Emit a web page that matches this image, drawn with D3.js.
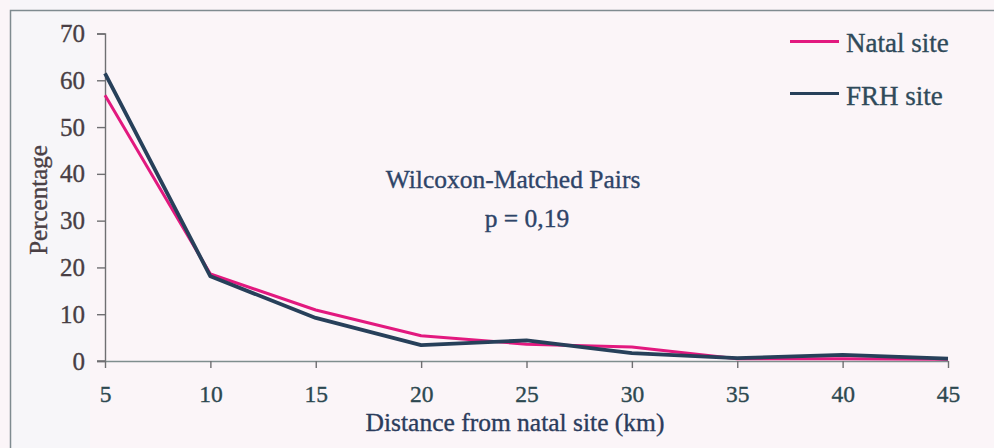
<!DOCTYPE html>
<html>
<head>
<meta charset="utf-8">
<script src="https://cdn.jsdelivr.net/npm/d3@7"></script>
<style>
  html, body { margin: 0; padding: 0; background: #fbf5f8; }
  svg { display: block; }
  svg text { font-family: "Liberation Serif", "Times New Roman", serif; }
</style>
</head>
<body>
<svg id="chart" width="994" height="448"></svg>
<script>
// Dispersal distance classes (km) and share of individuals (%)
const distances = [5, 10, 15, 20, 25, 30, 35, 40, 45];
const natalSite = [56.8, 18.6, 10.9, 5.4, 3.6, 3.0, 0.5, 0.5, 0.4];
const frhSite   = [61.5, 18.1, 9.2, 3.4, 4.4, 1.7, 0.6, 1.3, 0.5];
const yTicks = [0, 10, 20, 30, 40, 50, 60, 70];
const seriesNames = ["Natal site", "FRH site"];
const seriesColors = ["#e2197f", "#27405a"];

const SERIF = "'Liberation Serif', 'Times New Roman', serif";
const svg = d3.select("#chart");

// heavier type, like print
function ink(sel, color, w) {
  sel.attr("fill", color).attr("stroke", color).attr("stroke-width", w || 0.35);
}

// background and outer frame (only left and top edges fall inside the page)
svg.append("rect").attr("x", 0).attr("y", 0).attr("width", 994).attr("height", 448)
  .attr("fill", "#fbf5f8");
svg.append("rect").attr("x", 10).attr("y", 0).attr("width", 80).attr("height", 448)
  .attr("fill", "#f5f6f9").attr("opacity", 0.7);
svg.append("path").attr("d", "M10.5,460 V10.5 H1000")
  .attr("fill", "none").attr("stroke", "#7f8b90").attr("stroke-width", 1.5);

const x = d3.scaleLinear().domain([5, 45]).range([105, 948]);
const y = d3.scaleLinear().domain([0, 70]).range([361, 33.5]);

// y axis
const yAxis = svg.append("g").attr("transform", `translate(${x(5)},0)`)
  .attr("font-family", SERIF)
  .call(d3.axisLeft(y).tickValues(yTicks).tickSize(8).tickPadding(12));
yAxis.select(".domain").attr("stroke", "#6f6f72").attr("stroke-width", 1.4);
yAxis.selectAll(".tick line").attr("stroke", "#6f6f72").attr("stroke-width", 1.4);
yAxis.selectAll(".tick text").attr("font-family", SERIF).attr("font-size", 25)
  .call(ink, "#483e44");

// x axis
const xAxis = svg.append("g").attr("transform", `translate(0,${y(0)})`)
  .attr("font-family", SERIF)
  .call(d3.axisBottom(x).tickValues(distances).tickSize(7).tickPadding(17).tickSizeOuter(0));
xAxis.select(".domain").attr("stroke", "#7f8e8e").attr("stroke-width", 1.4);
xAxis.selectAll(".tick line").attr("stroke", "#6f6f72").attr("stroke-width", 1.4);
xAxis.selectAll(".tick text").attr("font-family", SERIF).attr("font-size", 23.5)
  .call(ink, "#2d4850");
// zero tick on the x axis line extends left of the y axis
svg.append("line").attr("x1", x(5) - 8).attr("x2", x(5)).attr("y1", y(0)).attr("y2", y(0))
  .attr("stroke", "#6f6f72").attr("stroke-width", 1.4);

// axis titles
svg.append("text").attr("x", 515).attr("y", 431).attr("text-anchor", "middle")
  .attr("font-family", SERIF).attr("font-size", 25.5)
  .call(ink, "#2b3c5c").text("Distance from natal site (km)");
svg.append("text").attr("transform", "translate(47,200) rotate(-90)")
  .attr("text-anchor", "middle").attr("font-family", SERIF).attr("font-size", 25)
  .call(ink, "#4a4045").text("Percentage");

// series lines
const line = d3.line().x((d, i) => x(distances[i])).y(d => y(d));
[natalSite, frhSite].forEach((vals, k) => {
  svg.append("path").datum(vals).attr("d", line)
    .attr("fill", "none").attr("stroke", seriesColors[k])
    .attr("stroke-width", k === 0 ? 3 : 3.8)
    .attr("stroke-linejoin", "round").attr("stroke-linecap", "butt");
});

// statistical test annotation
svg.append("text").attr("x", 513).attr("y", 188).attr("text-anchor", "middle")
  .attr("font-family", SERIF).attr("font-size", 25.5)
  .call(ink, "#2e4468").text("Wilcoxon-Matched Pairs");
svg.append("text").attr("x", 527).attr("y", 227).attr("text-anchor", "middle")
  .attr("font-family", SERIF).attr("font-size", 25.5)
  .call(ink, "#2e4468").text("p = 0,19");

// legend
const legendY = [41.5, 93.5];
const textY = [52, 105];
seriesNames.forEach((name, k) => {
  svg.append("line").attr("x1", 790).attr("x2", 839)
    .attr("y1", legendY[k]).attr("y2", legendY[k])
    .attr("stroke", seriesColors[k]).attr("stroke-width", 3);
  svg.append("text").attr("x", 846).attr("y", textY[k])
    .attr("font-family", SERIF).attr("font-size", 27)
    .call(ink, "#2f4a5a").text(name);
});
</script>
</body>
</html>
